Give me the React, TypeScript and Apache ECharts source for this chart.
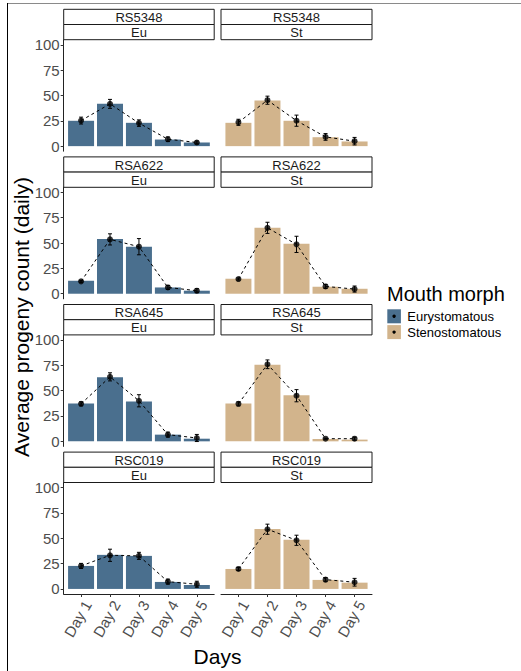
import React, { useEffect, useRef } from "react";
import * as echarts from "echarts";

const days = ["Day 1", "Day 2", "Day 3", "Day 4", "Day 5"];
const strains = ["RS5348", "RSA622", "RSA645", "RSC019"];
const morphs = ["Eu", "St"];
const morphNames = ["Eurystomatous", "Stenostomatous"];
const yTicks = [0, 25, 50, 75, 100];

// bar heights per strain (rows) for each morph
const barsEu = [
  [25, 41.7, 23, 6.5, 3.6],
  [12.8, 54, 46.4, 6.2, 3],
  [37.4, 63.2, 39.4, 6.6, 2.6],
  [22.7, 33.6, 32.6, 6.9, 3.9],
];
const barsSt = [
  [23, 45, 25, 8.8, 4.6],
  [14.8, 65, 49.3, 6.9, 4.9],
  [37.4, 75.5, 45.4, 2.3, 1.7],
  [19.7, 59.2, 48.4, 8.9, 6.2],
];
// mean points
const meansEu = [
  [25.2, 41.7, 22.7, 6.8, 3.6],
  [12.2, 53.6, 46.4, 6.2, 3],
  [37, 63.6, 40, 6.6, 3.3],
  [22.7, 33.2, 32.6, 7.2, 4.6],
];
const meansSt = [
  [23.5, 45.3, 25.1, 9.1, 4.9],
  [14.5, 65, 48.7, 7.2, 4.6],
  [37, 76, 45, 2.6, 2.6],
  [19.7, 58.9, 48, 9.2, 6.6],
];
// standard errors
const seEu = [
  [3.4, 4.4, 3.2, 2.3, 1.5],
  [1, 5.5, 8, 2, 2],
  [2, 4, 6, 2.5, 3.5],
  [2.5, 6, 3.5, 2.5, 3],
];
const seSt = [
  [3, 4, 5.5, 3.3, 3.7],
  [1, 5.5, 8, 2, 3],
  [2, 4.3, 6, 0.5, 1.5],
  [1.5, 5, 5, 2, 3.8],
];

const colors = ["#4A6F8E", "#D2B48C"];
const FONT = "Liberation Sans, Arial, Helvetica, sans-serif";

export default function App() {
  const ref = useRef<HTMLDivElement>(null);
  useEffect(() => {
    document.body.style.margin = "0";
    if (!ref.current) return;
    const chart = echarts.init(ref.current, null, { renderer: "svg" });

    const colLeft = [63.7, 221];
    const colWidth = [150.5, 151];
    const rowTop = (r: number) => 39.7 + 147.6 * r;
    const panelH = 111.5;
    const stripH = 15.2;

    const grids: any[] = [];
    const xAxes: any[] = [];
    const yAxes: any[] = [];
    const series: any[] = [];
    const graphics: any[] = [];

    const bars = [barsEu, barsSt];
    const means = [meansEu, meansSt];
    const ses = [seEu, seSt];

    strains.forEach((strain, r) => {
      morphs.forEach((morph, c) => {
        const idx = r * 2 + c;
        const top = rowTop(r);
        grids.push({ left: colLeft[c], top, width: colWidth[c], height: panelH, containLabel: false });
        const bottomRow = r === strains.length - 1;
        xAxes.push({
          gridIndex: idx,
          type: "value",
          min: 0.4,
          max: 5.6,
          axisLine: { show: bottomRow, onZero: false, lineStyle: { color: "#222", width: 1 } },
          axisTick: { show: bottomRow, customValues: [1, 2, 3, 4, 5], length: 3, lineStyle: { color: "#333" } },
          axisLabel: {
            show: bottomRow,
            customValues: [1, 2, 3, 4, 5],
            formatter: (v: number) => days[Math.round(v) - 1],
            rotate: 60,
            margin: 4,
            verticalAlign: "top",
            fontSize: 15,
            color: "#4D4D4D",
            fontFamily: FONT,
          },
          splitLine: { show: false },
        });
        yAxes.push({
          gridIndex: idx,
          type: "value",
          min: -5,
          max: 105,
          axisLine: { show: c === 0, lineStyle: { color: "#222", width: 1 } },
          axisTick: { show: c === 0, customValues: yTicks, length: 3, lineStyle: { color: "#333" } },
          axisLabel: {
            show: c === 0,
            customValues: yTicks,
            margin: 4,
            fontSize: 15,
            color: "#4D4D4D",
            fontFamily: FONT,
          },
          splitLine: { show: false },
        });
        const bv = bars[c][r];
        const mv = means[c][r];
        const sv = ses[c][r];
        series.push({
          type: "bar",
          xAxisIndex: idx,
          yAxisIndex: idx,
          barWidth: 26,
          itemStyle: { color: colors[c] },
          data: bv.map((v, i) => [i + 1, v]),
          z: 1,
        });
        series.push({
          type: "custom",
          xAxisIndex: idx,
          yAxisIndex: idx,
          encode: { x: 0, y: [1, 2] },
          data: mv.map((v, i) => [i + 1, v - sv[i], v + sv[i]]),
          renderItem: (params: any, api: any) => {
            const x = api.value(0);
            const lo = api.coord([x, api.value(1)]);
            const hi = api.coord([x, api.value(2)]);
            const w = 2;
            const st = { stroke: "#000", lineWidth: 1 };
            return {
              type: "group",
              children: [
                { type: "line", shape: { x1: lo[0], y1: lo[1], x2: hi[0], y2: hi[1] }, style: st },
                { type: "line", shape: { x1: lo[0] - w, y1: lo[1], x2: lo[0] + w, y2: lo[1] }, style: st },
                { type: "line", shape: { x1: hi[0] - w, y1: hi[1], x2: hi[0] + w, y2: hi[1] }, style: st },
              ],
            };
          },
          z: 3,
        });
        series.push({
          type: "line",
          xAxisIndex: idx,
          yAxisIndex: idx,
          data: mv.map((v, i) => [i + 1, v]),
          symbol: "none",
          lineStyle: { color: "#000", width: 1, type: [3, 3] },
          z: 4,
        });
        series.push({
          type: "scatter",
          xAxisIndex: idx,
          yAxisIndex: idx,
          data: mv.map((v, i) => [i + 1, v]),
          symbol: "circle",
          symbolSize: 6,
          itemStyle: { color: "#000" },
          z: 5,
        });
        // strips
        const labels = [strain, morph];
        labels.forEach((lab, k) => {
          const sy = top - stripH * (2 - k);
          graphics.push({
            type: "rect",
            shape: { x: colLeft[c], y: sy, width: colWidth[c], height: stripH },
            style: { fill: "#fff", stroke: "#1A1A1A", lineWidth: 1 },
          });
          graphics.push({
            type: "text",
            x: colLeft[c] + colWidth[c] / 2,
            y: sy + stripH / 2 + 0.5,
            style: {
              text: lab,
              fill: "#1A1A1A",
              font: `13px ${FONT}`,
              align: "center",
              verticalAlign: "middle",
            },
          });
        });
      });
    });

    // axis titles
    graphics.push({
      type: "text",
      x: 21,
      y: 317,
      rotation: Math.PI / 2,
      style: {
        text: "Average progeny count (daily)",
        fill: "#000",
        font: `21px ${FONT}`,
        align: "center",
        verticalAlign: "middle",
      },
    });
    graphics.push({
      type: "text",
      x: 217.5,
      y: 656,
      style: { text: "Days", fill: "#000", font: `21px ${FONT}`, align: "center", verticalAlign: "middle" },
    });
    // legend
    graphics.push({
      type: "text",
      x: 387,
      y: 294,
      style: { text: "Mouth morph", fill: "#000", font: `20px ${FONT}`, align: "left", verticalAlign: "middle" },
    });
    morphNames.forEach((name, k) => {
      const ky = 309.3 + k * 15.8;
      graphics.push({
        type: "rect",
        shape: { x: 387.3, y: ky, width: 13.6, height: 14 },
        style: { fill: colors[k] },
      });
      graphics.push({
        type: "circle",
        shape: { cx: 394.1, cy: ky + 7, r: 1.7 },
        style: { fill: "#000" },
      });
      graphics.push({
        type: "text",
        x: 407.3,
        y: ky + 7,
        style: { text: name, fill: "#000", font: `13px ${FONT}`, align: "left", verticalAlign: "middle" },
      });
    });
    // frame lines
    graphics.push({
      type: "line",
      shape: { x1: 7, y1: 3.5, x2: 521, y2: 3.5 },
      style: { stroke: "#8a8a8a", lineWidth: 1 },
    });
    graphics.push({
      type: "line",
      shape: { x1: 7.5, y1: 3, x2: 7.5, y2: 671 },
      style: { stroke: "#000", lineWidth: 1 },
    });

    chart.setOption({
      animation: false,
      backgroundColor: "#fff",
      grid: grids,
      xAxis: xAxes,
      yAxis: yAxes,
      series,
      graphic: graphics,
    });
    return () => chart.dispose();
  }, []);
  return <div ref={ref} style={{ width: 521, height: 671 }} />;
}
